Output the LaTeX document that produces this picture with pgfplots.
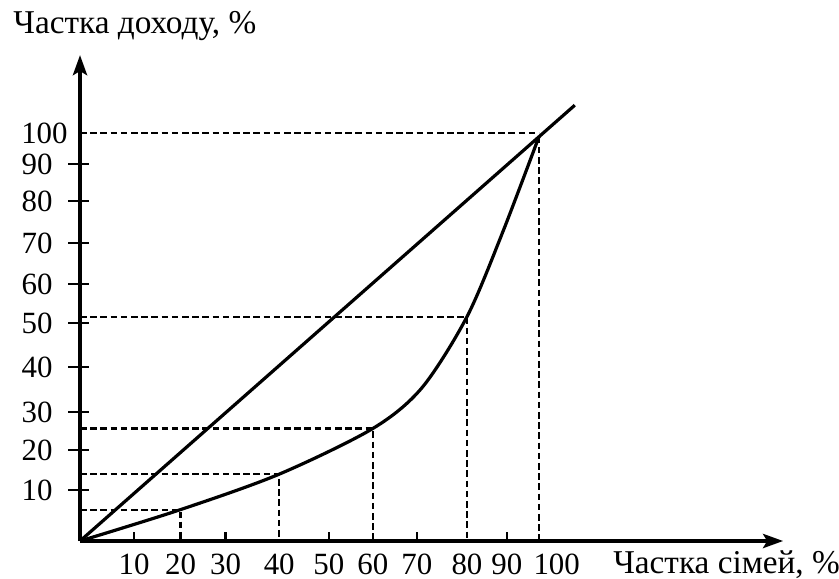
\documentclass[border=0pt]{standalone}
\usepackage{fontspec}
\setmainfont{Liberation Serif}
\usepackage{pgfplots}
\pgfplotsset{compat=1.18}
\usetikzlibrary{arrows.meta}
\begin{document}
\fontsize{15.5}{18}\selectfont
\begin{tikzpicture}
\begin{axis}[
  x=2.295bp, y=2.0385bp,
  xmin=0, xmax=153.2, ymin=0, ymax=119.2,
  axis lines=left,
  clip=false,
  unbounded coords=jump,
  axis line style={line width=2bp},
  every outer x axis line/.append style={-{Stealth[length=10bp,width=7bp,inset=2bp]}},
  every outer y axis line/.append style={-{Stealth[length=10bp,width=7bp,inset=2bp]}},
  /pgf/number format/assume math mode=true,
  major tick length=0pt,
  xtick={11.8,21.9,31.7,43.4,54.2,63.8,73.4,84.3,93.0,100},
  xticklabels={10,20,30,40,50,60,70,80,90,{\rlap{\kern-2.75bp 100}}},
  ytick={12.5,22.3,31.6,42.6,53.4,63.0,73.0,83.4,92.4},
  yticklabels={10,20,30,40,50,60,70,80,90},
  extra y ticks={100},
  extra y tick labels={100},
  extra y tick style={yticklabel style={xshift=7.5bp}},
  xticklabel style={anchor=north, inner sep=0pt, yshift=-6.5bp},
  yticklabel style={anchor=east, inner sep=0pt, xshift=-13.5bp},
]
% tick marks
\addplot[black, line width=1.1bp] coordinates {
  (-2.6,12.5) (2.0,12.5) (nan,nan) (-2.6,22.3) (2.0,22.3) (nan,nan)
  (-2.6,31.6) (2.0,31.6) (nan,nan) (-2.6,42.6) (2.0,42.6) (nan,nan)
  (-2.6,53.4) (2.0,53.4) (nan,nan) (-2.6,63.0) (2.0,63.0) (nan,nan)
  (-2.6,73.0) (2.0,73.0) (nan,nan) (-2.6,83.4) (2.0,83.4) (nan,nan)
  (-2.6,92.4) (2.0,92.4)};
\addplot[black, line width=1.1bp] coordinates {
  (11.8,0) (11.8,2.1) (nan,nan) (31.7,0) (31.7,2.1) (nan,nan)
  (54.2,0) (54.2,2.1) (nan,nan) (73.4,0) (73.4,2.1) (nan,nan)
  (93.0,0) (93.0,2.1)};
% diagonal (line of equality)
\addplot[black, line width=1.6bp] coordinates {(0,0) (107.8,106.9)};
% Lorenz curve
\addplot[black, line width=1.6bp, smooth, tension=0.5] coordinates {
  (0,0) (21.9,7.7) (43.4,16.4) (63.8,27.6) (74.5,37.6)
  (84.3,55.0) (92.0,75.5) (100,99.2)};
% dashed guides
\addplot[black, line width=1.1bp, dash pattern=on 3.3bp off 1.8bp] coordinates {(0,7.6) (21.9,7.6) (21.9,0)};
\addplot[black, line width=1.1bp, dash pattern=on 3.3bp off 1.8bp] coordinates {(0,16.4) (43.4,16.4) (43.4,0)};
\addplot[black, line width=1.1bp, dash pattern=on 3.3bp off 1.8bp] coordinates {(0,27.6) (63.8,27.6) (63.8,0)};
\addplot[black, line width=1.1bp, dash pattern=on 3.3bp off 1.8bp] coordinates {(0,55.0) (84.3,55.0) (84.3,0)};
\addplot[black, line width=1.1bp, dash pattern=on 3.3bp off 1.8bp] coordinates {(0,100) (100,100)};
\addplot[black, line width=1.1bp, dash pattern=on 3.3bp off 1.8bp] coordinates {(100,99.2) (100,0)};
% axis titles
\node[anchor=base west, inner sep=0pt, font=\fontsize{16.7}{19}\selectfont] at (axis cs:-14.6,124.4) {Частка доходу, \%};
\node[anchor=base west, inner sep=0pt, font=\fontsize{16.7}{19}\selectfont] at (axis cs:116.1,-7.9) {Частка сімей, \%};
\coordinate (bl) at (axis cs:-17.43,-9.08);
\coordinate (tr) at (axis cs:165.36,132.7);
\end{axis}
\pgfresetboundingbox
\path[use as bounding box] (bl) rectangle (tr);
\end{tikzpicture}
\end{document}
